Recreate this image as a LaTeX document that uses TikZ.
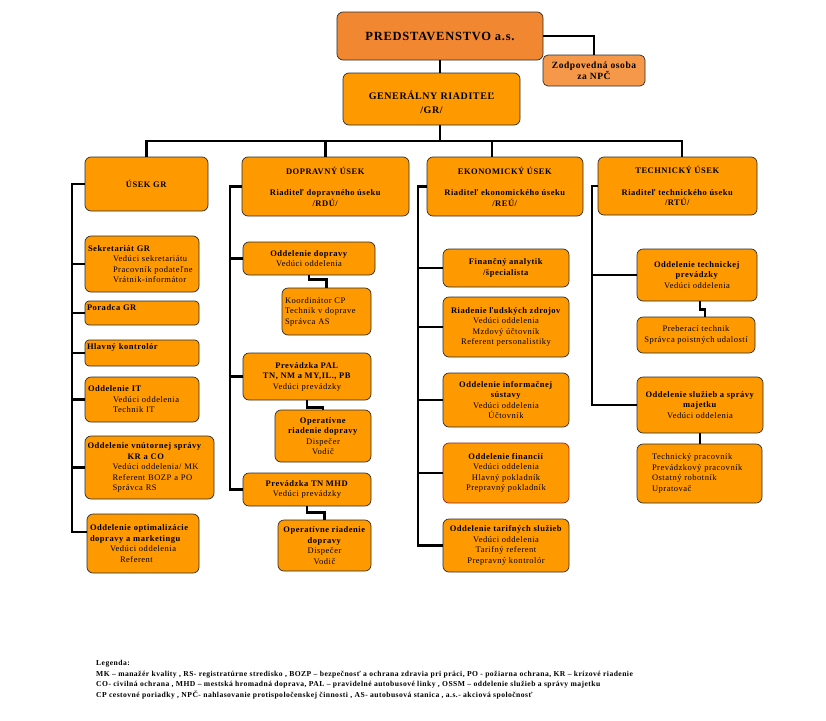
\documentclass[tikz,border=0pt]{standalone}
\usepackage{fontspec}
\setmainfont{Liberation Serif}[LetterSpace=6]
\usetikzlibrary{calc}
\definecolor{predC}{RGB}{242,135,50}
\definecolor{zodC}{RGB}{246,152,74}
\definecolor{orgC}{RGB}{255,153,0}
\definecolor{edgeC}{RGB}{45,45,45}
\definecolor{finEdge}{RGB}{150,35,25}
\newcommand\bxfont{\fontsize{8.5pt}{10.5pt}\selectfont}
\newcommand\ind[1]{\hspace*{#1pt}}
\begin{document}
\begin{tikzpicture}[x=1pt,y=-1pt,
  box/.style={draw=edgeC, line width=0.7pt, fill=orgC, rounded corners=6pt, inner sep=0pt, font=\bxfont, align=center},
  lbox/.style={box, align=left},
  boxat/.style n args={4}{minimum width={(#3)-(#1)}, minimum height={(#4)-(#2)}, at={({((#1)+(#3))/2},{((#2)+(#4))/2})}},
  conn/.style={line width=2.3pt, black}]
\fill[white] (0,0) rectangle (826,720);
\useasboundingbox (0,0) rectangle (826,720);

% top
\node[box, fill=predC, boxat={337}{12}{543}{60}, font=\fontsize{12.5pt}{14pt}\selectfont\bfseries] (pred) {PREDSTAVENSTVO a.s.};
\node[box, fill=zodC, rounded corners=5pt, boxat={543}{55}{645}{86}, font=\fontsize{9.5pt}{11.5pt}\selectfont\bfseries] (zod) {Zodpovedná osoba\\za NPČ};
\node[box, boxat={343}{73}{520}{125}] (gr) {};
\node[align=center, inner sep=0pt, font=\fontsize{10pt}{14pt}\selectfont\bfseries] (grt) at (431.5,102) {GENERÁLNY  RIADITEĽ\\/GR/};

% column heads
\node[box, boxat={85}{157}{208}{211}] (usekgr) {\textbf{ÚSEK GR}};
\node[box, boxat={242}{157}{409}{216}] (dopr) {\textbf{DOPRAVNÝ  ÚSEK}\\[11pt]\textbf{Riaditeľ dopravného úseku}\\\textbf{/RDÚ/}};
\node[box, boxat={427}{157}{583}{216}] (ekon) {\textbf{EKONOMICKÝ ÚSEK}\\[11pt]\textbf{Riaditeľ ekonomického úseku}\\\textbf{/REÚ/}};
\node[box, boxat={598}{157}{757}{215}] (tech) {\textbf{TECHNICKÝ ÚSEK}\\[11pt]\textbf{Riaditeľ technického úseku}\\\textbf{/RTÚ/}};

% column 1
\node[lbox, boxat={85}{236}{199}{292}, text width=108pt] (sek) {\textbf{Sekretariát GR}\\\ind{25}Vedúci sekretariátu\\\ind{25}Pracovník podateľne\\\ind{25}Vrátnik-informátor};
\node[lbox, rounded corners=4pt, boxat={85}{301}{199}{325}, text width=110pt, text depth=10pt] (por) {\textbf{Poradca GR}};
\node[lbox, rounded corners=4pt, boxat={85}{340}{199}{366}, text depth=12pt, text width=110pt] (hk) {\textbf{Hlavný kontrolór}};
\node[lbox, boxat={85}{377}{199}{422}, text width=108pt] (it) {\textbf{Oddelenie IT}\\\ind{25}Vedúci oddelenia\\\ind{25}Technik IT};
\node[lbox, boxat={85}{436}{214}{499}, text width=124pt] (vs) {\textbf{Oddelenie vnútornej správy}\\\ind{40}\textbf{KR a CO}\\\ind{25}Vedúci oddelenia/ MK\\\ind{25}Referent BOZP a PO\\\ind{25}Správca RS};
\node[lbox, boxat={87}{514}{199}{573}, text width=106pt] (opt) {\textbf{Oddelenie optimalizácie}\\\textbf{dopravy a marketingu}\\\ind{20}Vedúci oddelenia\\\ind{30}Referent};

% column 2
\node[box, boxat={243}{242}{375}{275}] (od) {\textbf{Oddelenie dopravy}\\Vedúci oddelenia};
\node[lbox, boxat={282}{288}{371}{335}, text width=83pt] (koord) {Koordinátor CP\\Technik v doprave\\Správca AS};
\node[box, boxat={243}{353}{371}{400}] (pal) {\textbf{Prevádzka  PAL}\\\textbf{TN, NM a MY,IL., PB}\\Vedúci  prevádzky};
\node[box, boxat={275}{410}{371}{462}] (op1) {\textbf{Operatívne}\\\textbf{riadenie dopravy}\\Dispečer\\Vodič};
\node[box, boxat={243}{473}{371}{506}] (tnm) {\textbf{Prevádzka TN MHD}\\Vedúci prevádzky};
\node[box, boxat={278}{520}{371}{571}] (op2) {\textbf{Operatívne riadenie}\\\textbf{dopravy}\\Dispečer\\Vodič};

% column 3
\node[box, boxat={443}{249}{569}{287}] (fa) {\textbf{Finančný analytik}\\\textbf{/špecialista}};
\node[box, boxat={443}{297}{569}{357}] (rlz) {\textbf{Riadenie ľudských zdrojov}\\Vedúci oddelenia\\Mzdový  účtovník\\Referent personalistiky};
\node[box, boxat={443}{373}{569}{427}] (ois) {\textbf{Oddelenie informačnej}\\\textbf{sústavy}\\Vedúci oddelenia\\Účtovník};
\node[box, draw=finEdge, boxat={443}{443}{569}{503}] (fin) {\textbf{Oddelenie financií}\\Vedúci oddelenia\\Hlavný  pokladník\\Prepravný pokladník};
\node[box, boxat={443}{519}{569}{572}] (tar) {\textbf{Oddelenie tarifných služieb}\\Vedúci oddelenia\\Tarifný referent\\Prepravný kontrolór};

% column 4
\node[box, boxat={637}{249}{757}{301}] (otp) {\textbf{Oddelenie technickej}\\\textbf{prevádzky}\\Vedúci oddelenia};
\node[box, boxat={637}{317}{755}{353}] (pt) {Preberací technik\\Správca poistných udalostí};
\node[box, boxat={637}{377}{763}{433}] (osm) {\textbf{Oddelenie služieb a správy}\\\textbf{majetku}\\Vedúci oddelenia};
\node[lbox, boxat={637}{444}{762}{503}, text width=119pt] (tp) {\ind{12}Technický pracovník\\\ind{12}Prevádzkový pracovník\\\ind{12}Ostatný robotník\\\ind{12}Upratovač};

% connectors top
\draw[conn] (pred.east) -| (zod.north);
\draw[conn] (pred.south) -- (pred.south |- gr.north);
\coordinate (bus) at (440,141);
\draw[conn] (gr.south -| pred.south) -- (bus);
\draw[conn] (usekgr.north) |- (bus) -| ([xshift=4.5pt]tech.north);
\draw[conn] (dopr.north) -- (dopr.north |- bus);
\draw[conn] ([xshift=-13pt]ekon.north) -- ([xshift=-13pt]ekon.north |- bus);

% column 1 connectors
\coordinate (s1) at (72,0);
\coordinate (optb) at ([yshift=-18pt]opt.north west);
\draw[conn] (usekgr.west) -| (s1 |- optb) -- (optb);
\foreach \n in {sek,por,hk,it,vs} \draw[conn] (\n.west) -- (\n.west -| s1);

% column 2 connectors
\coordinate (s2) at (230,0);
\draw[conn] (dopr.west) -| (s2 |- tnm.west) -- (tnm.west);
\foreach \n in {od,pal} \draw[conn] (\n.west) -- (\n.west -| s2);
\draw[conn] (od.south) -- ++(0,4) -| (koord.north);
\draw[conn] (pal.south) -- ++(0,7) -| (op1.north);
\draw[conn] (tnm.south) -- ++(0,6) -| (op2.north);

% column 3 connectors
\coordinate (s3) at (418,0);
\draw[conn] (ekon.west) -| (s3 |- tar.west) -- (tar.west);
\foreach \n in {fa,rlz,ois,fin} \draw[conn] (\n.west) -- (\n.west -| s3);

% column 4 connectors
\coordinate (s4) at (592,0);
\draw[conn] (tech.west) -| (s4 |- osm.west) -- (osm.west);
\draw[conn] (otp.west) -- (otp.west -| s4);
\draw[conn] ([xshift=3pt]otp.south) -- ++(0,8) -| ([xshift=9pt]pt.north);
\draw[conn] (osm.south) -- (osm.south |- tp.north);

% legend
\node[anchor=north west, align=left, inner sep=0pt, font=\fontsize{7.6pt}{10.7pt}\selectfont\bfseries] (leg) at (96,660) {Legenda:\\
MK – manažér kvality , RS- registratúrne stredisko ,  BOZP –  bezpečnosť a ochrana zdravia pri práci, PO - požiarna ochrana,  KR – krízové riadenie\\
CO- civilná ochrana , MHD – mestská hromadná doprava,   PAL – pravidelné autobusové linky  , OSSM – oddelenie služieb a správy majetku\\
CP cestovné poriadky ,  NPČ- nahlasovanie protispoločenskej činnosti  , AS- autobusová stanica , a.s.- akciová spoločnosť};
\end{tikzpicture}
\end{document}
